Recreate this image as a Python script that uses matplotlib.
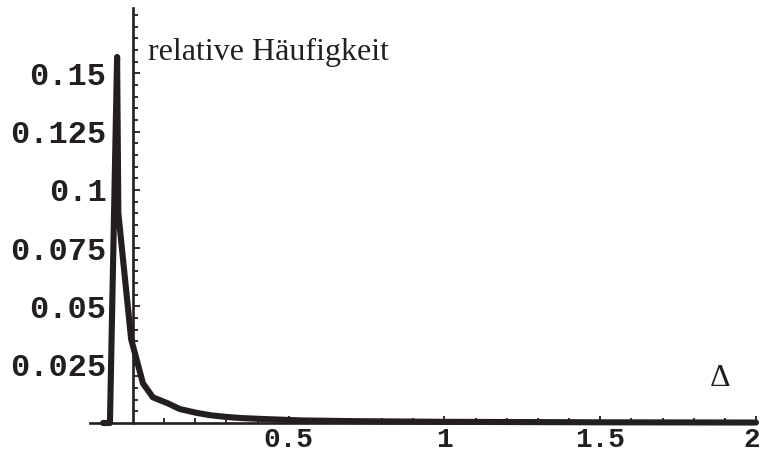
import matplotlib
matplotlib.use('Agg')
import matplotlib.pyplot as plt
import matplotlib.transforms as mtransforms
from matplotlib.ticker import FixedLocator

# Histogram der Abweichungen
delta = [-0.096, -0.074, -0.051, -0.047, -0.006, 0.032, 0.064, 0.109, 0.15,
         0.206, 0.25, 0.30, 0.35, 0.42, 0.54, 0.7, 1.0, 1.5, 2.0]
freq = [0.0, 0.0, 0.157, 0.090, 0.036, 0.017, 0.011, 0.0086, 0.006,
        0.0043, 0.0033, 0.0026, 0.0021, 0.0017, 0.0011, 0.0008, 0.0005, 0.0003, 0.0002]

xticks = [0.5, 1, 1.5, 2]
xlabels = ['0.5', '1', '1.5', '2']
yticks = [0.025, 0.05, 0.075, 0.1, 0.125, 0.15]
ylabels = ['0.025', '0.05', '0.075', '0.1', '0.125', '0.15']

ink = '#231f20'

fig = plt.figure(figsize=(7.63, 4.58), dpi=100)
ax = fig.add_axes([90/763, 35/458, 666/763, 415/458])

ax.plot(delta, freq, color=ink, lw=4.4, solid_joinstyle='round',
        solid_capstyle='round', clip_on=False, zorder=3)

ax.set_xlim(-0.138, 2.0)
ax.set_ylim(0, 0.178)

for s in ['top', 'right']:
    ax.spines[s].set_visible(False)
ax.spines['left'].set_position(('data', 0))
ax.spines['bottom'].set_position(('data', 0))
for s in ['left', 'bottom']:
    ax.spines[s].set_linewidth(1.9)
    ax.spines[s].set_color(ink)

ax.xaxis.set_major_locator(FixedLocator(xticks))
ax.set_xticklabels(xlabels)
ax.xaxis.set_minor_locator(FixedLocator([i / 10 for i in range(1, 21)]))
ax.yaxis.set_major_locator(FixedLocator(yticks))
ax.set_yticklabels(ylabels)
ax.yaxis.set_minor_locator(FixedLocator([i * 0.005 for i in range(1, 36)]))

ax.tick_params(which='both', direction='in', color=ink, width=1.3)
ax.tick_params(which='major', length=5)
ax.tick_params(which='minor', length=3.5)
ax.tick_params(axis='y', which='major', pad=19)
ax.tick_params(axis='x', which='major', pad=3)
for lab in ax.get_yticklabels():
    lab.set_fontsize(23)
for lab in ax.get_xticklabels():
    lab.set_fontsize(20)
for lab in ax.get_xticklabels() + ax.get_yticklabels():
    lab.set_fontfamily('Liberation Mono')
    lab.set_fontweight('bold')
    lab.set_color(ink)

# letzte Beschriftung etwas nach links, damit sie nicht am Rand abgeschnitten wird
last = ax.get_xticklabels()[-1]
last.set_transform(last.get_transform() +
                   mtransforms.ScaledTranslation(-4/100, 0, fig.dpi_scale_trans))

ax.text(0.047, 0.159, 'relative Häufigkeit', family='Liberation Serif',
        fontsize=23, color=ink, va='center', ha='left')
ax.text(1.885, 0.019, 'Δ', family='Liberation Serif', fontsize=23,
        color=ink, va='center', ha='center')

fig.savefig('out.png', dpi=100)
